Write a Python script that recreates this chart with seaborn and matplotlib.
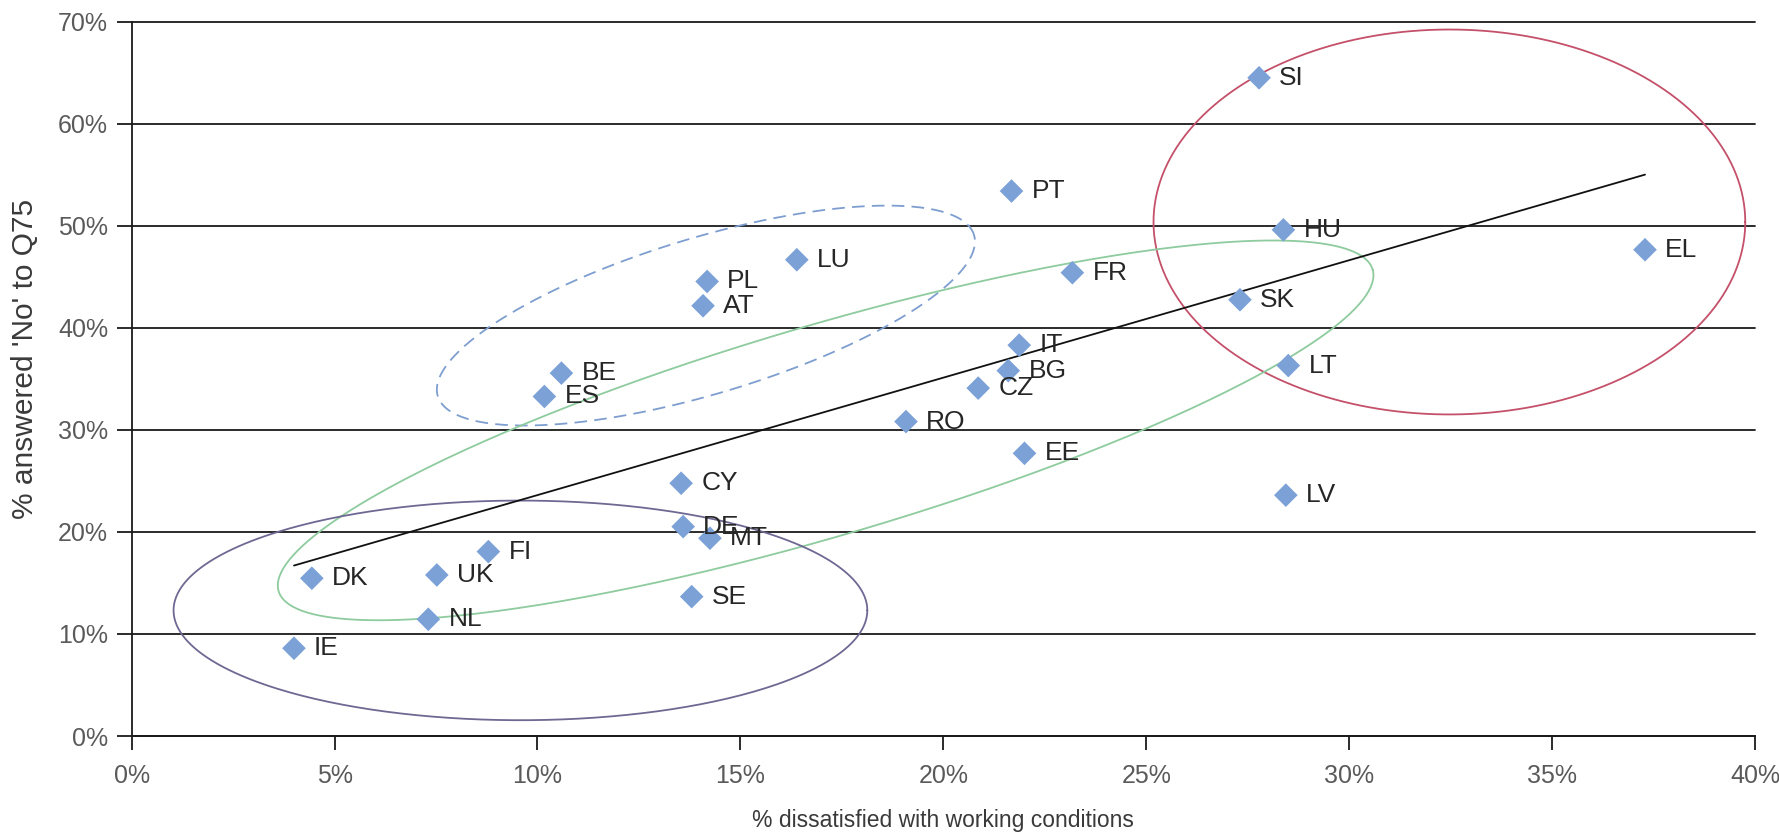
import numpy as np
import pandas as pd
import seaborn as sns
import matplotlib.pyplot as plt
from matplotlib.ticker import FuncFormatter

# --- data ---
countries = ["SI", "PT", "HU", "EL", "LU", "PL", "FR", "AT", "SK", "IT",
             "BG", "LT", "BE", "ES", "CZ", "RO", "EE", "CY", "LV", "DE",
             "MT", "FI", "DK", "UK", "SE", "NL", "IE"]
dissatisfied = [27.78, 21.68, 28.38, 37.29, 16.39, 14.18, 23.18, 14.08, 27.31, 21.87,
                21.60, 28.50, 10.59, 10.17, 20.86, 19.08, 22.00, 13.54, 28.44, 13.59,
                14.25, 8.79, 4.44, 7.52, 13.80, 7.31, 4.00]
answered_no = [64.5, 53.4, 49.6, 47.65, 46.67, 44.54, 45.4, 42.16, 42.75, 38.3,
               35.8, 36.3, 35.56, 33.27, 34.09, 30.81, 27.7, 24.77, 23.6, 20.52,
               19.38, 18.07, 15.46, 15.78, 13.66, 11.44, 8.6]

x_ticks = list(range(0, 45, 5))
y_ticks = list(range(0, 80, 10))

# group outlines: centre (in %), semi-axes (in reference px), tilt (deg), colour, style
groups = [
    (32.47, 50.37, 261, 170, 0.0, "#C4506A", "-"),
    (14.15, 41.20, 247, 69, 16.75, "#7E9ECF", (0, (7, 4))),
    (17.10, 29.95, 503, 93, 16.4, "#8ECB9E", "-"),
    (9.58, 12.31, 306, 97, 0.0, "#6F6893", "-"),
]
PX_X, PX_Y = 35.8, 9.014  # reference px per 1 % on each axis

df = pd.DataFrame({"country": countries, "x": dissatisfied, "y": answered_no})

sns.set_style("white")
plt.rcParams["font.family"] = ["Liberation Sans", "DejaVu Sans"]

fig = plt.figure(figsize=(17.79, 8.36), dpi=100)
ax = fig.add_axes([0.074, 0.1196, 0.9125, 0.8545])

# trend line
sns.regplot(data=df, x="x", y="y", ax=ax, scatter=False, ci=None,
            line_kws={"color": "#111111", "lw": 1.3, "zorder": 3})

# group ellipses
t = np.linspace(0, 2 * np.pi, 400)
for cx, cy, a, b, ang, col, ls in groups:
    th = np.deg2rad(ang)
    dx = a * np.cos(th) * np.cos(t) - b * np.sin(th) * np.sin(t)
    dy = a * np.sin(th) * np.cos(t) + b * np.cos(th) * np.sin(t)
    ax.plot(cx + dx / PX_X, cy + dy / PX_Y, color=col, lw=1.3, ls=ls, zorder=2)

sns.scatterplot(data=df, x="x", y="y", ax=ax, marker="D", s=145,
                color="#7BA1D7", edgecolor="none", zorder=4)

for _, r in df.iterrows():
    ax.annotate(r["country"], (r["x"], r["y"]), xytext=(14.5, 0),
                textcoords="offset points", va="center", ha="left",
                fontsize=19, color="#262626", zorder=5)

ax.set_xlim(0, 40)
ax.set_ylim(0, 70)
ax.set_xticks(x_ticks)
ax.set_yticks(y_ticks)
pct = FuncFormatter(lambda v, _: f"{v:.0f}%")
ax.xaxis.set_major_formatter(pct)
ax.yaxis.set_major_formatter(pct)

ax.yaxis.grid(True, color="#1a1a1a", lw=1.3)
for gl in ax.get_ygridlines():
    gl.set_clip_on(False)
ax.xaxis.grid(False)
ax.set_axisbelow(True)

for side in ["top", "right"]:
    ax.spines[side].set_visible(False)
for side in ["left", "bottom"]:
    ax.spines[side].set_color("#1a1a1a")
    ax.spines[side].set_linewidth(1.3)

ax.tick_params(axis="y", length=11, width=1.3, color="#1a1a1a", pad=6,
               labelsize=18, labelcolor="#5a5a5a", direction="out", left=True)
ax.tick_params(axis="x", length=10, width=1.3, color="#1a1a1a", pad=10,
               labelsize=18, labelcolor="#5a5a5a", direction="out", bottom=True)

ax.set_xlabel("% dissatisfied with working conditions", fontsize=16.5, color="#3a3a3a")
ax.set_ylabel("% answered 'No' to Q75", fontsize=21.5, color="#3a3a3a")
ax.xaxis.set_label_coords(0.5, -0.102)
ax.yaxis.set_label_coords(-0.057, 0.5285)

fig.savefig("out.png", dpi=100)
